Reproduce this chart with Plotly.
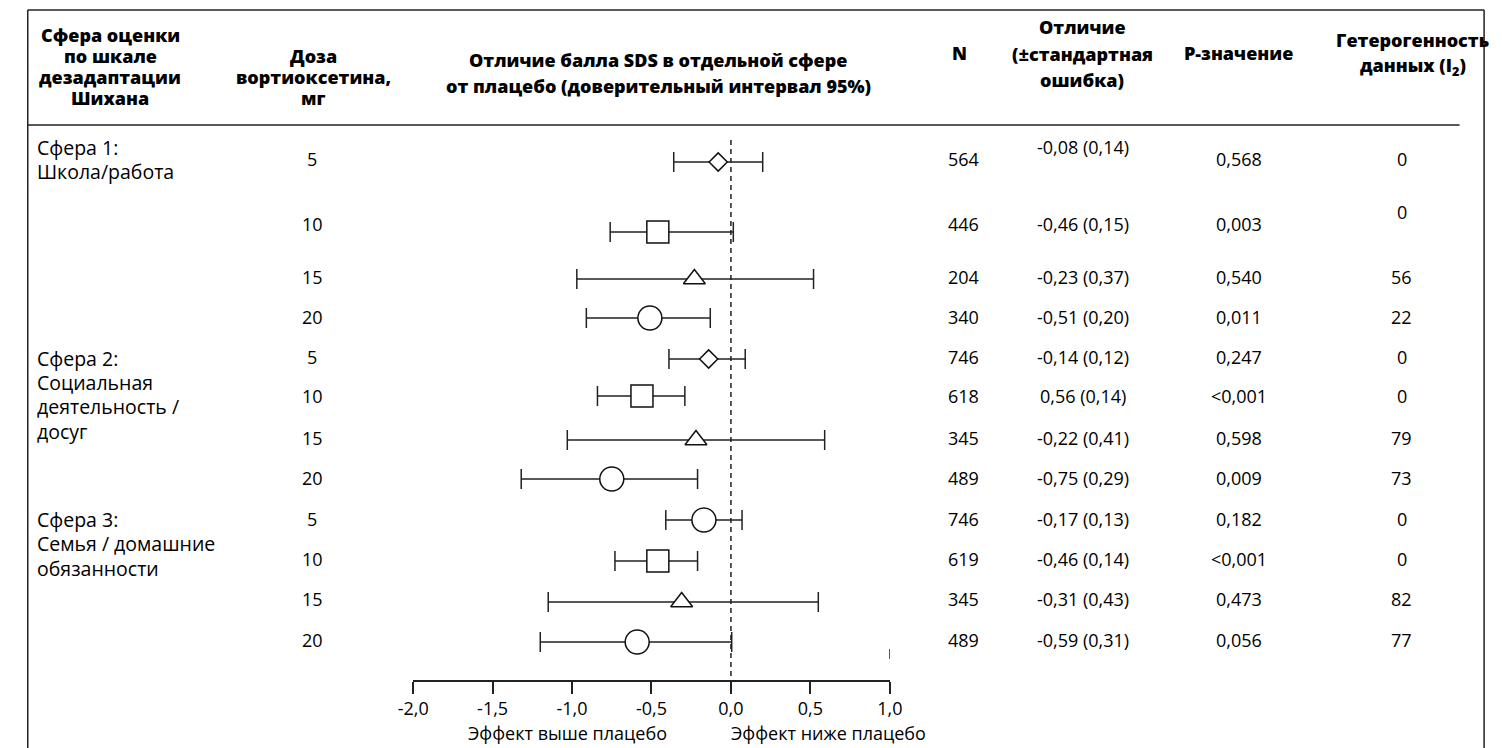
import plotly.graph_objects as go

# ---------------- data ----------------
domain_lines = [
    ["Сфера 1:", "Школа/работа"],
    ["Сфера 2:", "Социальная", "деятельность /", "досуг"],
    ["Сфера 3:", "Семья / домашние", "обязанности"],
]
doses = [5, 10, 15, 20, 5, 10, 15, 20, 5, 10, 15, 20]
means = [-0.08, -0.46, -0.23, -0.51, -0.14, -0.56, -0.22, -0.75, -0.17, -0.46, -0.31, -0.59]
ci_low = [-0.36, -0.76, -0.97, -0.91, -0.39, -0.84, -1.03, -1.32, -0.41, -0.73, -1.15, -1.20]
ci_high = [0.20, 0.015, 0.52, -0.13, 0.09, -0.29, 0.59, -0.21, 0.07, -0.21, 0.55, 0.005]
n_vals = [564, 446, 204, 340, 746, 618, 345, 489, 746, 619, 345, 489]
diff_text = ["-0,08 (0,14)", "-0,46 (0,15)", "-0,23 (0,37)", "-0,51 (0,20)",
             "-0,14 (0,12)", "0,56 (0,14)", "-0,22 (0,41)", "-0,75 (0,29)",
             "-0,17 (0,13)", "-0,46 (0,14)", "-0,31 (0,43)", "-0,59 (0,31)"]
p_text = ["0,568", "0,003", "0,540", "0,011", "0,247", "&lt;0,001", "0,598", "0,009",
          "0,182", "&lt;0,001", "0,473", "0,056"]
i2_vals = [0, 0, 56, 22, 0, 0, 79, 73, 0, 0, 82, 77]
x_ticks = [-2.0, -1.5, -1.0, -0.5, 0.0, 0.5, 1.0]
x_tick_labels = ["-2,0", "-1,5", "-1,0", "-0,5", "0,0", "0,5", "1,0"]

headers = {
    "domain": ["Сфера оценки", "по шкале", "дезадаптации", "Шихана"],
    "dose": ["Доза", "вортиоксетина,", "мг"],
    "effect": ["Отличие балла SDS в отдельной сфере", "от плацебо (доверительный интервал 95%)"],
    "n": ["N"],
    "diff": ["Отличие", "(±стандартная", "ошибка)"],
    "p": ["P-значение"],
    "het": ["Гетерогенность", "данных (I<sub>2</sub>)"],
}
axis_notes = ["Эффект выше плацебо", "Эффект ниже плацебо"]

# ---------------- layout (pixel positions) ----------------
W, H = 1502, 748
AXIS_Y = 680
symbols = ["diamond", "square", "triangle-up", "circle",
           "diamond", "square", "triangle-up", "circle",
           "circle", "square", "triangle-up", "circle"]
sym_size = {"diamond": 14, "square": 22, "triangle-up": 19, "circle": 24}
mark_rows = [162, 232, 279, 318, 359, 396, 440, 479, 520, 561, 602, 642]
text_rows = [159, 224, 277, 317, 357, 396, 438, 478, 519, 559, 599, 640]
domain_first_row = [147, 358, 519]
domain_line_gap = 24.5

FONT = "Open Sans"
BODY = 18
DOMAIN = 19.5
HEAD = 18


def px(x):
    return x / W


def py(y):
    return 1 - y / H


fig = go.Figure()

for sym in ["diamond", "square", "triangle-up", "circle"]:
    idx = [i for i, s in enumerate(symbols) if s == sym]
    fig.add_trace(go.Scatter(
        x=[means[i] for i in idx],
        y=[mark_rows[i] for i in idx],
        mode="markers",
        marker=dict(symbol=sym, size=sym_size[sym], color="white",
                    line=dict(color="#111", width=1.5)),
        error_x=dict(type="data", symmetric=False,
                     array=[ci_high[i] - means[i] for i in idx],
                     arrayminus=[means[i] - ci_low[i] for i in idx],
                     width=10, thickness=1.5, color="#222"),
        showlegend=False, hoverinfo="skip", cliponaxis=False,
    ))

ann = []


def text(x, y, s, size=BODY, bold=False, xanchor="center"):
    ann.append(dict(x=px(x), y=py(y), xref="paper", yref="paper", text=s,
                    showarrow=False, xanchor=xanchor, yanchor="middle",
                    font=dict(family=FONT, size=size, color="#000",
                              weight=800 if bold else 400)))


def header(key, x, y0, gap):
    for k, line in enumerate(headers[key]):
        text(x, y0 + k * gap, line, size=HEAD, bold=True)


header("domain", 96, 35, 21)
header("dose", 303, 56, 21)
header("effect", 655, 60, 26)
header("n", 962, 53, 0)
header("diff", 1087, 27, 26.5)
header("p", 1247, 53, 0)
header("het", 1424, 40, 26)

for d, lines in enumerate(domain_lines):
    for k, line in enumerate(lines):
        text(19, domain_first_row[d] + k * domain_line_gap, line, size=DOMAIN, xanchor="left")

for i in range(len(doses)):
    y = text_rows[i]
    text(302, y, str(doses[i]))
    text(966, y, str(n_vals[i]))
    text(1088, y - (12 if i == 0 else 0), diff_text[i])
    text(1247, y, p_text[i])
    text(1413, y - (12 if i == 1 else 0), str(i2_vals[i]))

text(562, 733, axis_notes[0])
text(828, 733, axis_notes[1])

shapes = [
    dict(type="line", xref="paper", yref="paper", x0=px(12), x1=px(12), y0=py(10), y1=py(H), line=dict(color="#222", width=1.5)),
    dict(type="line", xref="paper", yref="paper", x0=px(12), x1=px(1497), y0=py(10), y1=py(10), line=dict(color="#222", width=1.5)),
    dict(type="line", xref="paper", yref="paper", x0=px(1497), x1=px(1497), y0=py(10), y1=py(H), line=dict(color="#222", width=1.5)),
    dict(type="line", xref="paper", yref="paper", x0=px(12), x1=px(1472), y0=py(125), y1=py(125), line=dict(color="#222", width=1.5)),
    dict(type="line", xref="x", yref="y", x0=0, x1=0, y0=140, y1=AXIS_Y, line=dict(color="#222", width=1.5, dash="5px,4px")),
    dict(type="line", xref="x", yref="y", x0=1.0, x1=1.0, y0=649, y1=659, line=dict(color="#222", width=1.5)),
]

fig.update_layout(
    width=W, height=H, margin=dict(l=0, r=0, t=0, b=0),
    paper_bgcolor="white", plot_bgcolor="white",
    annotations=ann, shapes=shapes,
    xaxis=dict(domain=[px(405), px(891)], range=[-2, 1], tickvals=x_ticks, ticktext=x_tick_labels,
               ticks="outside", ticklen=12, tickwidth=1.5, tickcolor="#222",
               showline=True, linecolor="#222", linewidth=1.5, showgrid=False, zeroline=False,
               tickfont=dict(family=FONT, size=BODY, color="#000"), fixedrange=True),
    yaxis=dict(domain=[1 - AXIS_Y / H, 1], range=[AXIS_Y, 0], visible=False, showgrid=False,
               zeroline=False, fixedrange=True),
)

fig.write_html(
    "out.html",
    config={"displayModeBar": False},
    post_script="document.body.style.margin='0';document.body.style.overflow='hidden';",
)
